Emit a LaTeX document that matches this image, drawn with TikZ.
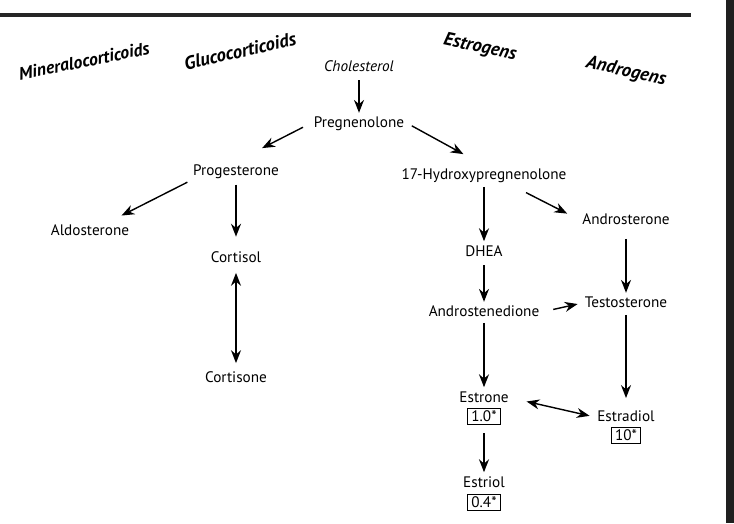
\documentclass[tikz,border=0pt]{standalone}
\usepackage{fontspec}
\setmainfont{PT Sans}
\usetikzlibrary{arrows.meta,positioning}

\tikzset{
  steroid/.style={font=\fontsize{13}{15}\selectfont, inner sep=2pt, text height=9.5pt, text depth=2.5pt},
  ratio/.style={draw, line width=0.7pt, font=\fontsize{13}{15}\selectfont, inner xsep=3.2pt, inner ysep=2.5pt, text height=9pt, text depth=0pt},
  class/.style={font=\fontsize{16}{18}\selectfont\bfseries\itshape, inner sep=1pt},
  conv/.style={-{Stealth[length=11pt,width=8.5pt]}, line width=1.6pt},
  slant/.style={-{Stealth[length=11pt,width=8.5pt]}, line width=1.2pt},
  both/.style={{Stealth[length=11pt,width=8.5pt]}-{Stealth[length=11pt,width=8.5pt]}, line width=1.6pt}
}

\begin{document}
\begin{tikzpicture}[x=0.03cm,y=-0.03cm]
\useasboundingbox (0,0) rectangle (734,523);

%draw frame
\draw[line width=3.2pt, black!85] (0,15) -- (691,15);
\fill[black!88] (726,0) rectangle (734,523);

%label steroid classes
\node[class, font=\fontsize{15.2}{18}\selectfont\bfseries\itshape, rotate=11.5] (mineral) at (84,61) {Mineralocorticoids};
\node[class, rotate=13] (gluco) at (240,51) {Glucocorticoids};
\node[class, rotate=-12] (estro) at (480,48) {Estrogens};
\node[class, rotate=-13] (andro) at (626,72) {Androgens};

%draw steroids
\node[steroid, font=\fontsize{13}{15}\selectfont\itshape] (chol) at (359,67) {Cholesterol};
\node[steroid] (preg) at (359,123) {Pregnenolone};
\node[steroid] (prog) at (236,171) {Progesterone};
\node[steroid] (ohpreg) at (484,175) {17-Hydroxypregnenolone};
\node[steroid] (aldo) at (90,231.5) {Aldosterone};
\node[steroid] (cortisol) at (236,258) {Cortisol};
\node[steroid] (cortisone) at (236,378) {Cortisone};
\node[steroid] (dhea) at (484,252) {DHEA};
\node[steroid] (androst) at (626,220) {Androsterone};
\node[steroid] (andione) at (484,312) {Androstenedione};
\node[steroid] (testo) at (626,303) {Testosterone};
\node[steroid] (estrone) at (484,398) {Estrone};
\node[steroid] (estradiol) at (626,417) {Estradiol};
\node[steroid] (estriol) at (484,483) {Estriol};

%draw potency boxes
\node[ratio, below=0pt of estrone] (estroneval) {1.0*};
\node[ratio, below=0pt of estradiol] (estradiolval) {10*};
\node[ratio, below=1pt of estriol] (estriolval) {0.4*};

%draw conversions
\draw[conv, shorten <=3pt, shorten >=0.5pt] (chol) -- (preg);
\draw[slant, shorten <=8pt, shorten >=25pt] (preg.west) -- (prog.north);
\draw[slant, shorten <=5pt, shorten >=20pt] (preg.east) -- (ohpreg.north);
\draw[slant, shorten <=3pt, shorten >=12pt] (prog.south west) -- (aldo);
\draw[conv, shorten <=3.5pt, shorten >=10pt] (prog) -- (cortisol);
\draw[both, shorten <=4.5pt, shorten >=4.5pt] (cortisol) -- (cortisone);
\draw[conv, shorten <=2pt, shorten >=1pt] (ohpreg) -- (dhea);
\draw[slant, shorten <=15pt, shorten >=12pt] (ohpreg.-20) -- (androst.west);
\draw[conv, shorten <=3pt, shorten >=0.5pt] (dhea) -- (andione);
\draw[conv, shorten <=8pt, shorten >=0.5pt] (androst) -- (testo);
\draw[slant, shorten <=10pt, shorten >=4pt] (andione.east) -- (testo.west);
\draw[conv, shorten <=1pt, shorten >=1pt] (andione) -- (estrone);
\draw[conv, shorten <=2pt, shorten >=8pt] (testo) -- (estradiol);
\draw[{Stealth[length=11pt,width=8.5pt]}-{Stealth[length=11pt,width=8.5pt]}, line width=1.2pt, shorten <=13.5pt, shorten >=4.5pt] (estrone.east) -- (estradiol.west);
\draw[conv, shorten <=7pt, shorten >=1pt] (estroneval) -- (estriol);

\end{tikzpicture}
\end{document}
